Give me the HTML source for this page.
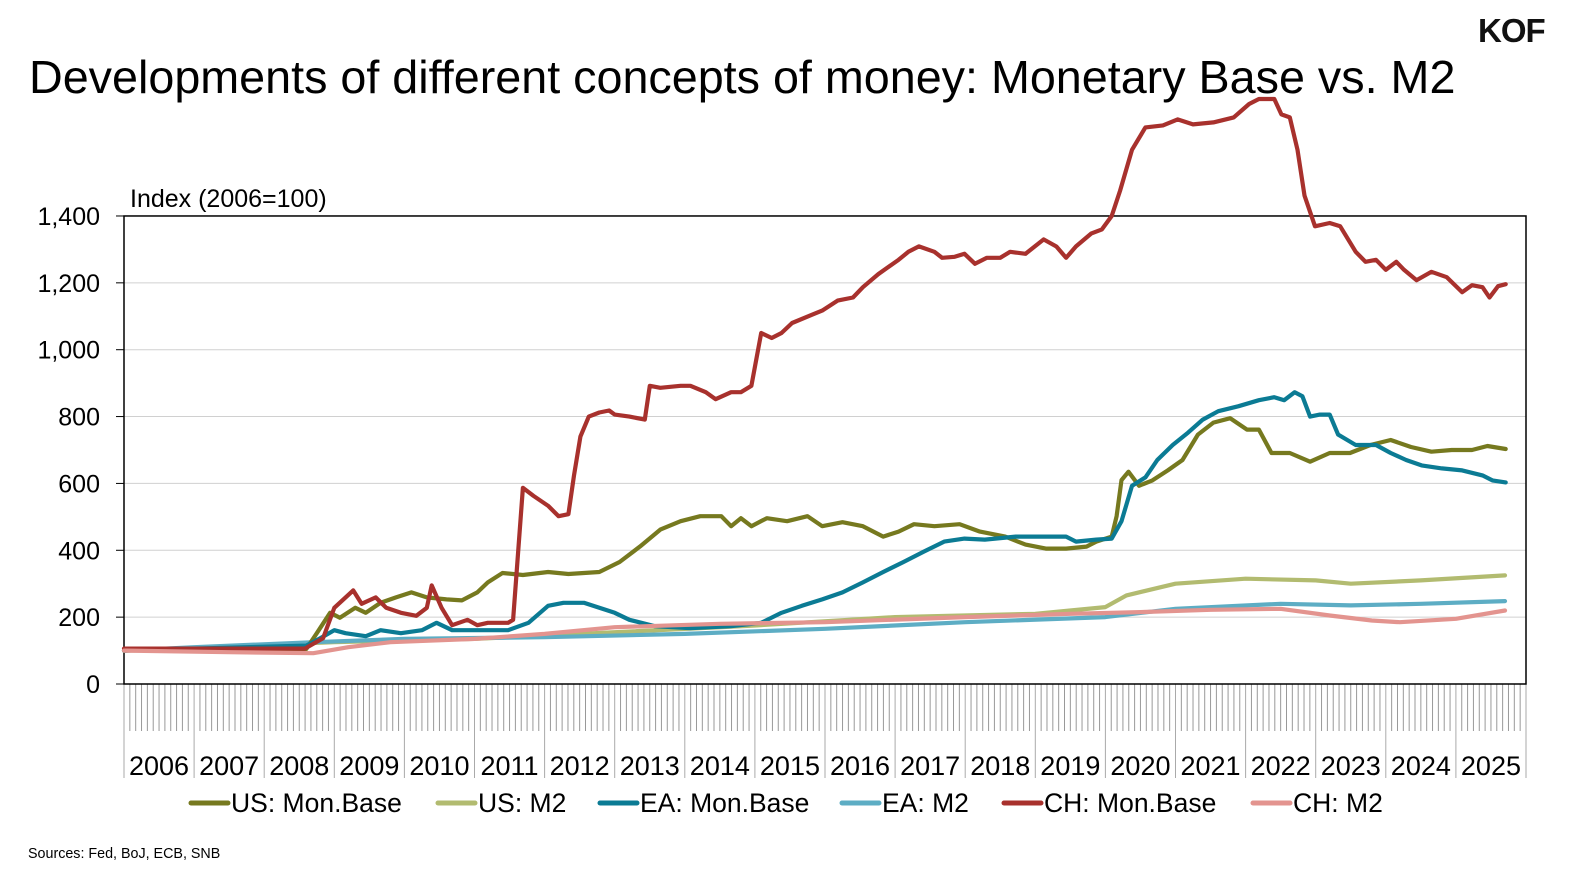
<!DOCTYPE html>
<html><head><meta charset="utf-8"><style>
body{margin:0;background:#fff;}
svg{display:block;font-family:"Liberation Sans",Arial,sans-serif;}
</style></head><body>
<svg id="s" width="1592" height="885" viewBox="0 0 1592 885" xmlns="http://www.w3.org/2000/svg">
<rect width="1592" height="885" fill="#fff"/>
<text x="1478" y="42" font-size="33" font-weight="bold" fill="#111" letter-spacing="-1">KOF</text>
<text x="29" y="93" font-size="46.7" fill="#000">Developments of different concepts of money: Monetary Base vs. M2</text>
<text x="130" y="207" font-size="25" fill="#000">Index (2006=100)</text>
<text x="28" y="858" font-size="14.3" fill="#000">Sources: Fed, BoJ, ECB, SNB</text>
<g id="g"></g>
</svg>
<script>
const X0=124,X1=1526,Y0=684,K=0.3343;
const px=t=>X0+(t-2006)*70.1, py=v=>Y0-v*K;
let h='';
for(let v=200;v<=1200;v+=200)h+=`<line x1="${X0}" x2="${X1}" y1="${py(v)}" y2="${py(v)}" stroke="#d0d0d0" stroke-width="1"/>`;
for(let v=0;v<=1400;v+=200){h+=`<line x1="116" x2="${X0}" y1="${py(v)}" y2="${py(v)}" stroke="#000" stroke-width="1"/>`;
h+=`<text x="100" y="${py(v)+9}" font-size="25" text-anchor="end">${v.toLocaleString('en-US')}</text>`;}
for(let m=0;m<=240;m++){const x=X0+m*70.1/12;const yr=m%12==0;
h+=`<line x1="${x}" x2="${x}" y1="${Y0}" y2="${yr?778:731}" stroke="${yr?'#aaa':'#999'}" stroke-width="1"/>`;}
for(let y=2006;y<=2025;y++)h+=`<text x="${px(y+0.5)}" y="775" font-size="27" text-anchor="middle">${y}</text>`;
h+=`<rect x="${X0}" y="${py(1400)}" width="${X1-X0}" height="${Y0-py(1400)}" fill="none" stroke="#000" stroke-width="1.5"/>`;
const S={
usm2:[[2006,100],[2009,125],[2011,135],[2013,155],[2015,175],[2017,200],[2019,210],[2020,230],[2020.3,265],[2021,300],[2022,315],[2023,310],[2023.5,300],[2024.5,310],[2025.7,325]],
eam2:[[2006,100],[2007,110],[2008.7,125],[2010,135],[2012,140],[2014,150],[2016,165],[2018,185],[2020,200],[2021,225],[2022.5,240],[2023.5,235],[2024.5,240],[2025.7,248]],
usmb:[[2006,100],[2008.6,105],[2008.75,152],[2008.94,213],[2009.08,198],[2009.3,228],[2009.45,213],[2009.66,243],[2009.88,259],[2010.1,274],[2010.32,259],[2010.6,253],[2010.82,250],[2011.04,274],[2011.19,304],[2011.4,332],[2011.69,326],[2012.05,335],[2012.34,329],[2012.56,332],[2012.78,335],[2013.07,365],[2013.36,411],[2013.65,462],[2013.94,487],[2014.22,502],[2014.52,502],[2014.66,472],[2014.8,496],[2014.95,472],[2015.17,496],[2015.46,487],[2015.75,502],[2015.96,472],[2016.25,484],[2016.54,472],[2016.83,441],[2017.05,456],[2017.27,478],[2017.56,472],[2017.92,478],[2018.21,456],[2018.57,441],[2018.86,417],[2019.15,405],[2019.44,405],[2019.73,411],[2019.87,426],[2020.09,441],[2020.16,502],[2020.23,610],[2020.33,635],[2020.48,593],[2020.67,609],[2020.89,639],[2021.1,670],[2021.32,746],[2021.54,782],[2021.78,795],[2022.02,761],[2022.19,761],[2022.37,691],[2022.63,691],[2022.92,665],[2023.2,691],[2023.49,691],[2023.78,715],[2024.07,730],[2024.36,709],[2024.65,695],[2024.94,700],[2025.23,700],[2025.45,712],[2025.71,703]],
eamb:[[2006,100],[2008.6,115],[2008.8,137],[2009.0,161],[2009.16,152],[2009.45,143],[2009.66,161],[2009.95,152],[2010.25,161],[2010.46,183],[2010.68,161],[2011.04,161],[2011.48,161],[2011.77,183],[2012.05,234],[2012.27,243],[2012.56,243],[2012.78,228],[2013.0,213],[2013.21,192],[2013.57,173],[2014.08,167],[2014.66,173],[2015.09,183],[2015.38,213],[2015.67,234],[2015.96,253],[2016.25,274],[2016.54,304],[2016.83,335],[2017.12,365],[2017.41,396],[2017.7,426],[2017.99,435],[2018.28,432],[2018.72,441],[2019.15,441],[2019.44,441],[2019.58,426],[2019.87,432],[2020.09,435],[2020.23,487],[2020.38,593],[2020.57,618],[2020.74,670],[2020.96,715],[2021.18,752],[2021.39,791],[2021.61,816],[2021.9,831],[2022.19,849],[2022.41,858],[2022.55,849],[2022.7,873],[2022.81,861],[2022.92,800],[2023.06,806],[2023.2,806],[2023.32,746],[2023.57,715],[2023.86,715],[2024.07,691],[2024.29,670],[2024.51,654],[2024.8,645],[2025.09,639],[2025.38,624],[2025.52,609],[2025.71,603]],
chmb:[[2006,106],[2008.58,106],[2008.84,137],[2009.0,228],[2009.27,280],[2009.39,240],[2009.59,259],[2009.74,228],[2009.95,213],[2010.17,204],[2010.32,228],[2010.39,295],[2010.53,228],[2010.68,176],[2010.9,192],[2011.04,176],[2011.19,183],[2011.48,183],[2011.55,192],[2011.69,587],[2011.84,563],[2012.05,533],[2012.2,502],[2012.34,508],[2012.42,624],[2012.51,740],[2012.63,800],[2012.78,812],[2012.92,818],[2013.0,806],[2013.21,800],[2013.43,791],[2013.5,892],[2013.65,886],[2013.94,892],[2014.08,892],[2014.3,873],[2014.44,852],[2014.66,873],[2014.8,873],[2014.95,892],[2015.09,1050],[2015.24,1035],[2015.38,1050],[2015.53,1080],[2015.82,1105],[2015.96,1117],[2016.18,1147],[2016.4,1156],[2016.54,1187],[2016.76,1226],[2017.05,1269],[2017.19,1293],[2017.34,1309],[2017.56,1293],[2017.67,1275],[2017.85,1278],[2017.99,1287],[2018.14,1257],[2018.31,1275],[2018.5,1275],[2018.64,1293],[2018.86,1287],[2019.12,1330],[2019.3,1309],[2019.44,1275],[2019.58,1309],[2019.8,1348],[2019.95,1360],[2020.09,1400],[2020.21,1476],[2020.38,1598],[2020.57,1665],[2020.82,1671],[2021.03,1689],[2021.25,1674],[2021.54,1680],[2021.83,1695],[2022.05,1735],[2022.19,1750],[2022.41,1750],[2022.51,1704],[2022.63,1695],[2022.74,1598],[2022.84,1461],[2022.99,1369],[2023.2,1379],[2023.35,1369],[2023.57,1293],[2023.71,1263],[2023.86,1269],[2024.0,1239],[2024.15,1263],[2024.26,1239],[2024.44,1208],[2024.65,1233],[2024.87,1217],[2025.09,1172],[2025.23,1193],[2025.38,1187],[2025.48,1156],[2025.6,1190],[2025.71,1196]],
chm2:[[2006,100],[2007.5,95],[2008.7,92],[2009.2,110],[2009.8,125],[2011,135],[2012,150],[2013,170],[2014.5,180],[2016,185],[2018,200],[2019.5,210],[2020.5,215],[2021.5,222],[2022.5,225],[2023.2,205],[2023.8,190],[2024.2,185],[2025,195],[2025.7,220]]
};
const C={usmb:'#76791f',usm2:'#b2bb70',eamb:'#0b7b94',eam2:'#5dadc4',chmb:'#a8312d',chm2:'#e3948f'};
for(const k of ['usm2','eam2','usmb','eamb','chmb','chm2']){
h+=`<polyline fill="none" stroke="${C[k]}" stroke-width="4.2" stroke-linejoin="round" stroke-linecap="round" points="${S[k].map(p=>px(p[0]).toFixed(1)+','+py(p[1]).toFixed(1)).join(' ')}"/>`;}
const L=[['usmb','US: Mon.Base',191],['usm2','US: M2',438],['eamb','EA: Mon.Base',600],['eam2','EA: M2',842],['chmb','CH: Mon.Base',1004],['chm2','CH: M2',1253]];
for(const [k,t,x] of L){h+=`<line x1="${x}" x2="${x+37}" y1="803" y2="803" stroke="${C[k]}" stroke-width="5" stroke-linecap="round"/><text x="${x+40}" y="812" font-size="26.5">${t}</text>`;}
document.getElementById('g').innerHTML=h;
</script>
</body></html>
